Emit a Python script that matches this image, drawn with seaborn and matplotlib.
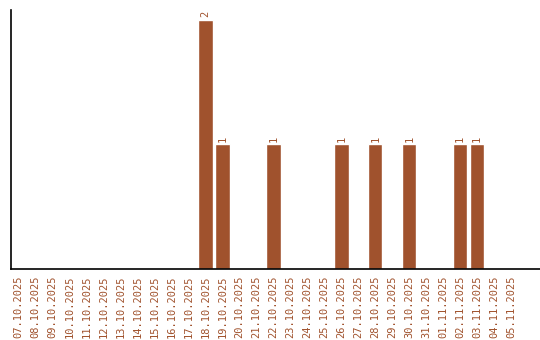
import matplotlib
matplotlib.use("Agg")
import matplotlib.pyplot as plt
import seaborn as sns
import pandas as pd

dates = ["07.10.2025", "08.10.2025", "09.10.2025", "10.10.2025", "11.10.2025",
         "12.10.2025", "13.10.2025", "14.10.2025", "15.10.2025", "16.10.2025",
         "17.10.2025", "18.10.2025", "19.10.2025", "20.10.2025", "21.10.2025",
         "22.10.2025", "23.10.2025", "24.10.2025", "25.10.2025", "26.10.2025",
         "27.10.2025", "28.10.2025", "29.10.2025", "30.10.2025", "31.10.2025",
         "01.11.2025", "02.11.2025", "03.11.2025", "04.11.2025", "05.11.2025"]
counts = [0, 0, 0, 0, 0, 0, 0, 0, 0, 0,
          0, 2, 1, 0, 0, 1, 0, 0, 0, 1,
          0, 1, 0, 1, 0, 0, 1, 1, 0, 0]

color = "#A0522D"
df = pd.DataFrame({"date": dates, "count": counts})

sns.set_style("white")
plt.rcParams["font.family"] = ["DejaVu Sans Mono"]

fig = plt.figure(figsize=(5.4, 3.4), dpi=100)
ax = fig.add_axes([0.0204, 0.2088, 0.9796, 0.7618])
sns.barplot(data=df, x="date", y="count", color=color, saturation=1,
            width=0.85, ax=ax)

for p, v in zip(ax.patches, counts):
    if v > 0:
        ax.text(p.get_x() + p.get_width() / 2, p.get_height() + 0.02, str(v),
                rotation=90, ha="center", va="bottom", fontsize=7.5, color=color)

ax.set_xlim(-0.45, 30.7)
ax.set_ylim(0, 2.08)
ax.set_xlabel("")
ax.set_ylabel("")
ax.set_yticks([])
ax.tick_params(axis="x", length=0, pad=5, labelsize=7.5, labelcolor=color, rotation=90)
for s in ["top", "right"]:
    ax.spines[s].set_visible(False)
for s in ["left", "bottom"]:
    ax.spines[s].set_color("black")
    ax.spines[s].set_linewidth(1.2)

fig.savefig("out.png", dpi=100)
